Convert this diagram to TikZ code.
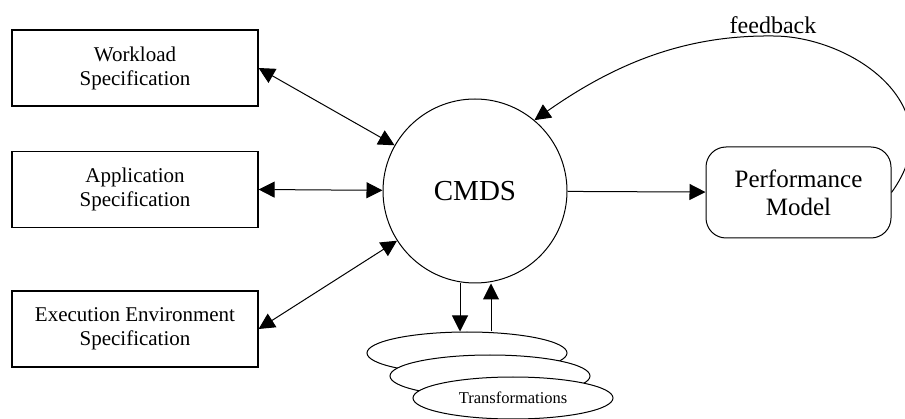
\documentclass[tikz,border=0pt]{standalone}
\usepackage{fontspec}
\setmainfont{Liberation Serif}
\usetikzlibrary{arrows.meta,shapes.geometric}

\begin{document}
\begin{tikzpicture}[x=1pt,y=-1pt,line width=1pt,
  specbox/.style={draw,line width=1.2pt,minimum width=246pt,minimum height=76pt,align=center,font=\fontsize{21}{24}\selectfont},
  trans/.style={draw,ellipse,fill=white,minimum width=200pt,minimum height=42pt,inner sep=0pt},
  arr/.style={-{Triangle[length=16pt,width=16pt]}},
  dblarr/.style={{Triangle[length=16pt,width=16pt]}-{Triangle[length=16pt,width=16pt]}}]
\useasboundingbox (0,0) rectangle (905,419);

\node[specbox] (wspec) at (135,68) {Workload\\Specification};
\node[specbox] (aspec) at (135,189.5) {Application\\Specification};
\node[specbox] (espec) at (135,329) {Execution Environment\\Specification};

\node[draw,circle,minimum size=184pt,inner sep=0pt,font=\fontsize{29}{32}\selectfont] (cmds) at (475,191) {CMDS};
\node[draw,rounded corners=20pt,minimum width=185pt,minimum height=91pt,align=center,font=\fontsize{25}{28}\selectfont] (perf) at (798.5,192.5) {Performance\\Model};

\node[trans] (tr1) at (467,353) {};
\node[trans] (tr2) at (490,376) {};
\node[trans,font=\fontsize{16.5}{18}\selectfont] (tr3) at (513,398) {Transformations};

\draw[dblarr] (wspec.east) -- (cmds);
\draw[dblarr] (aspec.east) -- (cmds);
\draw[dblarr] (espec.east) -- (cmds);
\draw[arr] (cmds) -- (perf);

\draw[arr] ([xshift=-15pt]cmds.south) -- ([xshift=-7pt]tr1.north);
\draw[arr] ([xshift=24pt]tr1.north) -- ([xshift=16pt]cmds.south);

\coordinate (fbtop) at (773,36);
\draw[arr] (perf.east) .. controls (955,105) and (850,36) .. (fbtop)
  .. controls (690,35) and (620,60) .. (cmds.50);
\node[above,inner sep=2pt,font=\fontsize{24}{26}\selectfont] (fblabel) at (fbtop) {feedback};
\end{tikzpicture}
\end{document}
